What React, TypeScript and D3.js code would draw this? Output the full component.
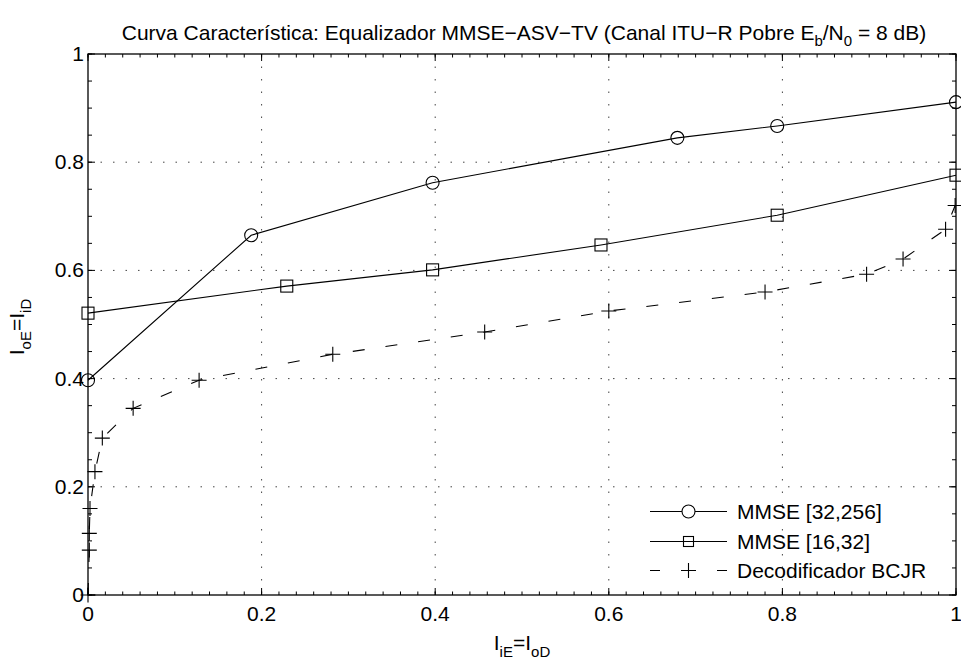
import React from "react";
import * as d3 from "d3";

const xCircle = [0, 0.188, 0.397, 0.679, 0.794, 1.0];
const yCircle = [0.397, 0.665, 0.762, 0.845, 0.867, 0.911];
const xSquare = [0, 0.229, 0.397, 0.591, 0.794, 1.0];
const ySquare = [0.521, 0.571, 0.601, 0.647, 0.702, 0.776];
const xPlus = [0, 0.0015, 0.0015, 0.0023, 0.008, 0.0165, 0.052, 0.128, 0.282, 0.457, 0.6, 0.78, 0.897, 0.939, 0.988, 0.999];
const yPlus = [0, 0.083, 0.114, 0.16, 0.228, 0.29, 0.345, 0.397, 0.445, 0.486, 0.525, 0.56, 0.593, 0.621, 0.676, 0.72];
const xTickLabels = ["0", "0.2", "0.4", "0.6", "0.8", "1"];
const yTickLabels = ["0", "0.2", "0.4", "0.6", "0.8", "1"];
const legendLabels = ["MMSE [32,256]", "MMSE [16,32]", "Decodificador BCJR"];

const W = 961, H = 666;
const M = { left: 88, right: 956, top: 54, bottom: 595 };
const FONT = "'Liberation Sans', Arial, Helvetica, sans-serif";
const FS = 21;
const SUB = 15;
const DASH = "12,21";

export default function App() {
  const x = d3.scaleLinear().domain([0, 1]).range([M.left, M.right]);
  const y = d3.scaleLinear().domain([0, 1]).range([M.bottom, M.top]);
  const majors = d3.range(0, 1.0001, 0.2);
  const xMinor = d3.range(0, 1.0001, 0.02);
  const yMinor = d3.range(0, 1.0001, 0.05);
  const line = d3.line<[number, number]>().x((d) => x(d[0])).y((d) => y(d[1]));
  const circ = xCircle.map((v, i) => [v, yCircle[i]] as [number, number]);
  const sq = xSquare.map((v, i) => [v, ySquare[i]] as [number, number]);
  const pl = xPlus.map((v, i) => [v, yPlus[i]] as [number, number]);
  const R = 6.5, S = 6, P = 7.5;

  const plus = (cx: number, cy: number, k: string) => (
    <path key={k} d={`M${cx - P},${cy}H${cx + P}M${cx},${cy - P}V${cy + P}`} stroke="#000" strokeWidth={1.1} fill="none" />
  );

  const legX0 = 650, legX1 = 727, legXm = 688.5, legTx = 737;
  const legY = [511.5, 541.5, 570.5];

  return (
    <svg width={W} height={H} style={{ position: "absolute", left: 0, top: 0, background: "#fff" }} fontFamily={FONT}>
      <rect x={0} y={0} width={W} height={H} fill="#fff" />
      {majors.slice(1, -1).map((v, i) => (
        <g key={"g" + i}>
          <line x1={x(v)} x2={x(v)} y1={M.top} y2={M.bottom} stroke="#444" strokeWidth={1} strokeDasharray="1.5,11" />
          <line x1={M.left} x2={M.right} y1={y(v)} y2={y(v)} stroke="#444" strokeWidth={1} strokeDasharray="1.5,11" />
        </g>
      ))}
      {xMinor.map((v, i) => (
        <g key={"xm" + i} stroke="#000" strokeWidth={1}>
          <line x1={x(v)} x2={x(v)} y1={M.bottom} y2={M.bottom - 3.5} />
          <line x1={x(v)} x2={x(v)} y1={M.top} y2={M.top + 3.5} />
        </g>
      ))}
      {yMinor.map((v, i) => (
        <g key={"ym" + i} stroke="#000" strokeWidth={1}>
          <line x1={M.left} x2={M.left + 4} y1={y(v)} y2={y(v)} />
          <line x1={M.right} x2={M.right - 4} y1={y(v)} y2={y(v)} />
        </g>
      ))}
      {majors.map((v, i) => (
        <g key={"mj" + i} stroke="#000" strokeWidth={1}>
          <line x1={x(v)} x2={x(v)} y1={M.bottom} y2={M.bottom - 7} />
          <line x1={x(v)} x2={x(v)} y1={M.top} y2={M.top + 7} />
          <line x1={M.left} x2={M.left + 7} y1={y(v)} y2={y(v)} />
          <line x1={M.right} x2={M.right - 7} y1={y(v)} y2={y(v)} />
        </g>
      ))}
      <rect x={M.left} y={M.top} width={M.right - M.left} height={M.bottom - M.top} fill="none" stroke="#000" strokeWidth={1.3} />
      {majors.map((v, i) => (
        <text key={"xl" + i} x={x(v)} y={M.bottom + 26} textAnchor="middle" fontSize={FS}>{xTickLabels[i]}</text>
      ))}
      {majors.map((v, i) => (
        <text key={"yl" + i} x={M.left - 4} y={y(v) + 7} textAnchor="end" fontSize={FS}>{yTickLabels[i]}</text>
      ))}
      <path d={line(circ) || ""} fill="none" stroke="#000" strokeWidth={1.1} />
      {circ.map((d, i) => (
        <circle key={"c" + i} cx={x(d[0])} cy={y(d[1])} r={R} fill="none" stroke="#000" strokeWidth={1.1} />
      ))}
      <path d={line(sq) || ""} fill="none" stroke="#000" strokeWidth={1.1} />
      {sq.map((d, i) => (
        <rect key={"s" + i} x={x(d[0]) - S} y={y(d[1]) - S} width={2 * S} height={2 * S} fill="none" stroke="#000" strokeWidth={1.1} />
      ))}
      <path d={line(pl) || ""} fill="none" stroke="#000" strokeWidth={1.1} strokeDasharray={DASH} />
      {pl.map((d, i) => plus(x(d[0]), y(d[1]), "p" + i))}
      <line x1={legX0} x2={legX1} y1={legY[0]} y2={legY[0]} stroke="#000" strokeWidth={1.1} />
      <circle cx={legXm} cy={legY[0]} r={R} fill="#fff" stroke="#000" strokeWidth={1.1} />
      <line x1={legX0} x2={legX1} y1={legY[1]} y2={legY[1]} stroke="#000" strokeWidth={1.1} />
      <rect x={legXm - 5} y={legY[1] - 5} width={10} height={10} fill="none" stroke="#000" strokeWidth={1.1} />
      <line x1={legX0} x2={legX1} y1={legY[2]} y2={legY[2]} stroke="#000" strokeWidth={1.1} strokeDasharray="10,23.5" />
      {plus(legXm, legY[2], "lp")}
      {legendLabels.map((t, i) => (
        <text key={"lt" + i} x={legTx} y={legY[i] + 7.5} fontSize={FS}>{t}</text>
      ))}
      <text x={524} y={40} textAnchor="middle" fontSize={FS}>
        Curva Característica: Equalizador MMSE−ASV−TV (Canal ITU−R Pobre E
        <tspan fontSize={SUB} dy={6}>b</tspan>
        <tspan dy={-6}>/N</tspan>
        <tspan fontSize={SUB} dy={6}>0</tspan>
        <tspan dy={-6}> = 8 dB)</tspan>
      </text>
      <text x={522} y={650} textAnchor="middle" fontSize={FS}>
        I<tspan fontSize={SUB} dy={7}>iE</tspan>
        <tspan dy={-7}>=I</tspan>
        <tspan fontSize={SUB} dy={7}>oD</tspan>
      </text>
      <text transform={`translate(24,${327}) rotate(-90)`} textAnchor="middle" fontSize={FS}>
        I<tspan fontSize={SUB} dy={7}>oE</tspan>
        <tspan dy={-7}>=I</tspan>
        <tspan fontSize={SUB} dy={7}>iD</tspan>
      </text>
    </svg>
  );
}
